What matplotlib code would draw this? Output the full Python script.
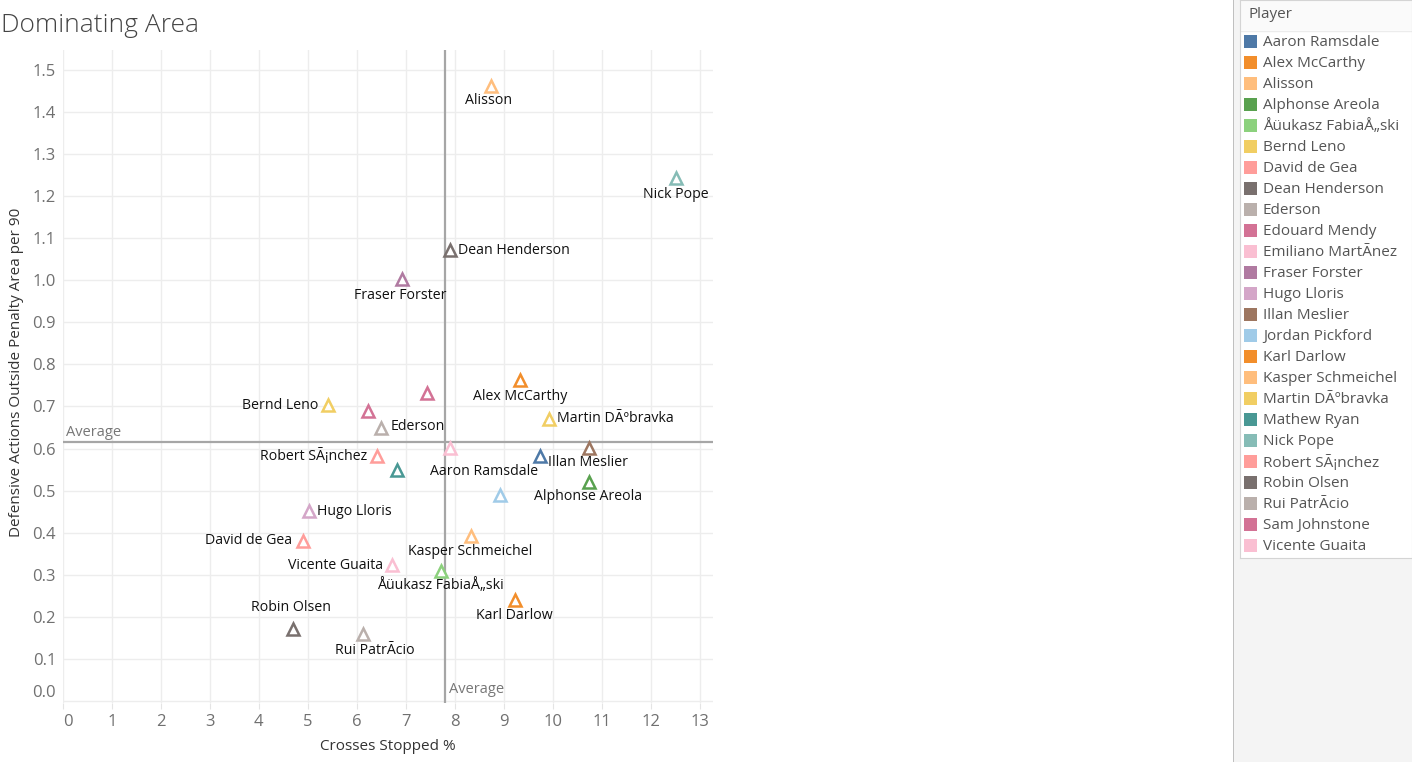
import matplotlib
matplotlib.use("Agg")
import matplotlib.pyplot as plt
from matplotlib.patches import Rectangle
from matplotlib.lines import Line2D

plt.rcParams['font.family'] = ['Open Sans', 'DejaVu Sans']

# Players (names kept exactly as shown, including the encoding glitches)
players = [
    "Aaron Ramsdale", "Alex McCarthy", "Alisson", "Alphonse Areola",
    "Åüukasz FabiaÅ„ski", "Bernd Leno", "David de Gea", "Dean Henderson",
    "Ederson", "Edouard Mendy", "Emiliano MartÃnez", "Fraser Forster",
    "Hugo Lloris", "Illan Meslier", "Jordan Pickford", "Karl Darlow",
    "Kasper Schmeichel", "Martin DÃºbravka", "Mathew Ryan", "Nick Pope",
    "Robert SÃ¡nchez", "Robin Olsen", "Rui PatrÃcio", "Sam Johnstone",
    "Vicente Guaita",
]
crosses_stopped = [9.73, 9.33, 8.73, 10.73, 7.71, 5.41, 4.90, 7.91, 6.50, 6.22,
                   7.91, 6.92, 5.02, 10.73, 8.92, 9.22, 8.32, 9.93, 6.81, 12.52,
                   6.42, 4.70, 6.12, 7.43, 6.71]
def_actions = [0.582, 0.762, 1.463, 0.521, 0.310, 0.703, 0.381, 1.072, 0.649, 0.690,
               0.602, 1.002, 0.451, 0.602, 0.490, 0.240, 0.391, 0.671, 0.550, 1.243,
               0.582, 0.171, 0.160, 0.733, 0.322]
colors = ["#4e79a7", "#f28e2b", "#ffbe7d", "#59a14f", "#8cd17d", "#f1ce63",
          "#ff9d9a", "#79706e", "#bab0ac", "#d37295", "#fabfd2", "#b07aa1",
          "#d4a6c8", "#9d7660", "#a0cbe8", "#f28e2b", "#ffbe7d", "#f1ce63",
          "#499894", "#86bcb6", "#ff9d9a", "#79706e", "#bab0ac", "#d37295",
          "#fabfd2"]
avg_x = 7.80
avg_y = 0.615

# label placement: (dx px, dy px, ha); players missing here have no label
label_pos = {
    "Aaron Ramsdale": (-1, -15, "right"),
    "Alex McCarthy": (0, -16, "center"),
    "Alisson": (-2, -15, "center"),
    "Alphonse Areola": (-1, -15, "center"),
    "Åüukasz FabiaÅ„ski": (0, -15, "center"),
    "Bernd Leno": (-10, 0, "right"),
    "David de Gea": (-11, 0, "right"),
    "Dean Henderson": (8, 0, "left"),
    "Ederson": (9, 1, "left"),
    "Fraser Forster": (-2, -16, "center"),
    "Hugo Lloris": (8, 0, "left"),
    "Illan Meslier": (-1, -15, "center"),
    "Karl Darlow": (0, -16, "center"),
    "Kasper Schmeichel": (0, -15, "center"),
    "Martin DÃºbravka": (8, 0, "left"),
    "Nick Pope": (0, -16, "center"),
    "Robert SÃ¡nchez": (-10, 0, "right"),
    "Robin Olsen": (-2, 21, "center"),
    "Rui PatrÃcio": (12, -17, "center"),
    "Vicente Guaita": (-9, 0, "right"),
}

W, H = 1412, 762
fig = plt.figure(figsize=(W / 100, H / 100), dpi=100)

# right-hand panel background + separator
fig.patches.append(Rectangle((1234 / W, 0), 1 - 1234 / W, 1, transform=fig.transFigure,
                             facecolor="#f4f4f4", edgecolor="none", zorder=-1))
fig.add_artist(Line2D([1233.5 / W, 1233.5 / W], [0, 1], transform=fig.transFigure,
                      color="#b4b4b4", lw=1.2, zorder=-1))

ax = fig.add_axes([63 / W, 1 - 703 / H, 650 / W, 653 / H])
for i, p in enumerate(players):
    ax.plot(crosses_stopped[i], def_actions[i], marker="^", ms=8.5, mfc="white",
            mec=colors[i], mew=1.8, ls="none", zorder=5)
    if p in label_pos:
        dx, dy, ha = label_pos[p]
        ax.annotate(p, (crosses_stopped[i], def_actions[i]), xytext=(dx, dy),
                    textcoords="offset pixels", ha=ha, va="center",
                    fontsize=10.2, color="#111111", zorder=6)

ax.axvline(avg_x, color="#a6a6a6", lw=1.6, zorder=3)
ax.axhline(avg_y, color="#a6a6a6", lw=1.6, zorder=3)
ax.annotate("Average", (0, avg_y), xytext=(3, 10), textcoords="offset pixels",
            ha="left", va="center", fontsize=10.5, color="#777777")
ax.annotate("Average", (avg_x, 0), xytext=(4, 11), textcoords="offset pixels",
            ha="left", va="center", fontsize=10.5, color="#777777")

ax.set_xlim(0, 13.27)
ax.set_ylim(-0.005, 1.5475)
ax.set_xticks(range(0, 14))
ax.set_yticks([i / 10 for i in range(16)])
ax.set_yticklabels([f"{i / 10:.1f}" for i in range(16)])
ax.grid(True, color="#ededed", lw=1)
ax.set_axisbelow(True)
for s in ax.spines.values():
    s.set_visible(False)
ax.tick_params(axis="both", colors="#e4e4e4", labelcolor="#707070", labelsize=12)
ax.tick_params(axis="x", length=4, pad=4)
ax.tick_params(axis="y", length=0, pad=5)
ax.get_xticklabels()[0].set_ha("left")
ax.get_yticklabels()[0].set_va("bottom")

fig.text(388 / W, 1 - 747 / H, "Crosses Stopped %", ha="center", va="center",
         fontsize=11, color="#333333")
fig.text(17 / W, 1 - 372 / H, "Defensive Actions Outside Penalty Area per 90",
         ha="center", va="center", rotation=90, fontsize=11, color="#333333")
fig.text(1 / W, 1 - 25 / H, "Dominating Area", ha="left", va="center",
         fontsize=19, color="#444444", fontweight="light")

# legend box
lg = fig.add_axes([1240 / W, 1 - 558 / H, 172 / W, 558 / H])
lg.set_xlim(0, 172)
lg.set_ylim(558, 0)
lg.set_xticks([])
lg.set_yticks([])
for s in lg.spines.values():
    s.set_color("#d4d4d4")
lg.add_patch(Rectangle((0, 0), 172, 30, facecolor="#fafafa", edgecolor="none"))
lg.axhline(30.5, color="#ececec", lw=1)
lg.text(8, 15, "Player", ha="left", va="center", fontsize=11, color="#555555")
for i, p in enumerate(players):
    yc = 41 + i * 21.0
    lg.add_patch(Rectangle((4, yc - 6.5), 13, 13, facecolor=colors[i], edgecolor="none"))
    lg.text(23, yc + 1.5, p, ha="left", va="center", fontsize=11, color="#555555")

fig.savefig("out.png", dpi=100)
